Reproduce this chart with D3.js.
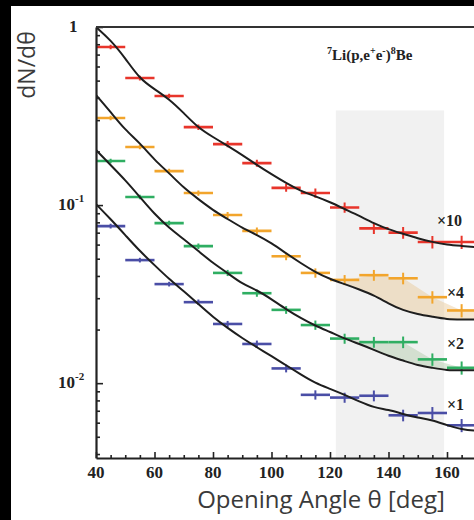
<!DOCTYPE html>
<html lang="en">
<head>
<meta charset="UTF-8">
<title>Opening angle distribution 7Li(p,e+e-)8Be</title>
<script src="https://d3js.org/d3.v7.min.js"></script>
<style>
  body { margin: 0; background: #fff; }
  svg { display: block; }
  .serif { font-family: 'Liberation Serif', 'Times New Roman', serif; font-weight: bold; fill: #222; }
  .sans { font-family: 'Open Sans', sans-serif; fill: #3a3a3a; }
  .axis path, .axis line { stroke: #222; }
</style>
</head>
<body>
<div id="chart"></div>
<script>
// histogram bins of the opening angle (deg)
var binCenters = [45, 55, 65, 75, 85, 95, 105, 115, 125, 135, 145, 155, 165];
var binWidth = 10;

// measured dN/dθ per series, before the display multipliers
var redData    = [0.0772, 0.0517, 0.0410, 0.0274, 0.0220, 0.0172, 0.0125, 0.0117, 0.0097, 0.0074, 0.0070, 0.0062, 0.0062];
var orangeData = [0.0771, 0.0530, 0.0388, 0.0292, 0.0220, 0.0179, 0.0129, 0.0104, 0.0095, 0.0101, 0.0097, 0.0076, 0.0064];
var greenData  = [0.0884, 0.0555, 0.0396, 0.0294, 0.0208, 0.0160, 0.0129, 0.0106, 0.0089, 0.0085, 0.0085, 0.0068, 0.0061];
var blueData   = [0.0762, 0.0491, 0.0360, 0.0285, 0.0215, 0.0166, 0.0121, 0.0086, 0.0083, 0.0085, 0.0066, 0.0068, 0.0058];
// relative error per bin
var relError   = [0.03, 0.03, 0.03, 0.035, 0.04, 0.045, 0.05, 0.06, 0.065, 0.07, 0.075, 0.08, 0.085];

// simulated curves (same units)
var curveAngles = [40, 45, 50, 55, 60, 65, 70, 75, 80, 85, 90, 95, 100, 105, 110, 115, 120, 125, 130, 135, 140, 145, 150, 155, 160, 165, 170, 175];
var redCurve    = [0.1000, 0.0845, 0.0669, 0.0510, 0.0448, 0.0394, 0.0329, 0.0271, 0.0241, 0.0215, 0.0191, 0.0168, 0.0149, 0.0133, 0.0120, 0.0112, 0.0104, 0.0095, 0.0087, 0.0079, 0.0073, 0.0069, 0.0065, 0.0062, 0.0060, 0.0059, 0.0058, 0.0057];
var orangeCurve = [0.1038, 0.0833, 0.0660, 0.0558, 0.0448, 0.0378, 0.0312, 0.0270, 0.0234, 0.0209, 0.0186, 0.0170, 0.0153, 0.0134, 0.0118, 0.0105, 0.0096, 0.0090, 0.0084, 0.0078, 0.0070, 0.0064, 0.0061, 0.0059, 0.0057, 0.0057, 0.0057, 0.0057];
var greenCurve  = [0.1019, 0.0839, 0.0691, 0.0555, 0.0445, 0.0372, 0.0322, 0.0276, 0.0236, 0.0208, 0.0180, 0.0167, 0.0148, 0.0130, 0.0116, 0.0105, 0.0097, 0.0089, 0.0083, 0.0077, 0.0071, 0.0067, 0.0063, 0.0061, 0.0059, 0.0059, 0.0059, 0.0059];
var blueCurve   = [0.1013, 0.0834, 0.0679, 0.0551, 0.0460, 0.0384, 0.0329, 0.0278, 0.0235, 0.0204, 0.0179, 0.0159, 0.0142, 0.0126, 0.0112, 0.0100, 0.0093, 0.0086, 0.0079, 0.0073, 0.0071, 0.0067, 0.0064, 0.0062, 0.0058, 0.0055, 0.0054, 0.0054];

var seriesNames   = ['\u00d710', '\u00d74', '\u00d72', '\u00d71'];
var seriesFactors = [10, 4, 2, 1];
var seriesData    = [redData, orangeData, greenData, blueData];
var seriesCurves  = [redCurve, orangeCurve, greenCurve, blueCurve];
var seriesColors  = ['#e8352b', '#f2a52c', '#2fae62', '#4a4ea6'];

// excess region (deg) and the bins where data sits above the curve
var bandRange = [122, 159];
var bandTop = 0.34;
var excessBins = [125, 135, 145, 155, 165];
var excessSeries = [1, 2];   // orange and green
var excessColors = ['#e6c48c', '#a9c6a2'];

var xMajorTicks = [40, 60, 80, 100, 120, 140, 160];
var yLabelTicks = [1, 0.1, 0.01];

// ---- layout (note: no global named "top", it clashes with window.top)
var width = 474, height = 520;
var plotLeft = 96, plotTop = 27, plotBottom = 458;

var svg = d3.select('#chart').append('svg')
    .attr('width', width)
    .attr('height', height);

svg.append('rect').attr('width', width).attr('height', height).attr('fill', '#fff');

var x = d3.scaleLinear().domain([40, 180]).range([plotLeft, plotLeft + 140 * 2.925]);
var y = d3.scaleLog().domain([0.0038, 1]).range([plotBottom, plotTop]);

svg.append('clipPath').attr('id', 'plotclip')
  .append('rect')
    .attr('x', plotLeft).attr('y', plotTop)
    .attr('width', x(180) - plotLeft).attr('height', plotBottom - plotTop);

var plot = svg.append('g').attr('clip-path', 'url(#plotclip)');

// grey band
plot.append('rect')
    .attr('x', x(bandRange[0]))
    .attr('y', y(bandTop))
    .attr('width', x(bandRange[1]) - x(bandRange[0]))
    .attr('height', plotBottom - y(bandTop))
    .attr('fill', '#f1f1f1');

// shaded excess between data and curve
excessSeries.forEach(function(si, k) {
    var f = seriesFactors[si];
    var topPts = excessBins.map(function(b) {
        var i = binCenters.indexOf(b);
        return [x(b), y(seriesData[si][i] * f)];
    });
    var last = seriesData[si][binCenters.indexOf(excessBins[excessBins.length - 1])];
    topPts.push([x(175), y(last * f)]);
    var botPts = [];
    curveAngles.forEach(function(a, i) {
        if (a >= excessBins[0] && a <= 175) botPts.push([x(a), y(seriesCurves[si][i] * f)]);
    });
    botPts.reverse();
    plot.append('path')
        .attr('d', d3.line()(topPts.concat(botPts)) + 'Z')
        .attr('fill', excessColors[k])
        .attr('fill-opacity', 0.42);
});

// data points with bin widths and errors
seriesData.forEach(function(vals, si) {
    var f = seriesFactors[si];
    var g = plot.append('g').attr('stroke', seriesColors[si]);
    g.selectAll('line.h')
        .data(vals)
        .enter().append('line')
        .attr('class', 'h')
        .attr('x1', function(d, i) { return x(binCenters[i] - binWidth / 2); })
        .attr('x2', function(d, i) { return x(binCenters[i] + binWidth / 2); })
        .attr('y1', function(d) { return y(d * f); })
        .attr('y2', function(d) { return y(d * f); })
        .attr('stroke-width', 2.6);
    g.selectAll('line.v')
        .data(vals)
        .enter().append('line')
        .attr('class', 'v')
        .attr('x1', function(d, i) { return x(binCenters[i]); })
        .attr('x2', function(d, i) { return x(binCenters[i]); })
        .attr('y1', function(d, i) { return y(d * f * (1 + relError[i])); })
        .attr('y2', function(d, i) { return y(d * f * (1 - relError[i])); })
        .attr('stroke-width', 2);
});

// simulation curves, smoothed
var line = d3.line()
    .x(function(d) { return x(d[0]); })
    .y(function(d) { return y(d[1]); })
    .curve(d3.curveBasis);

seriesCurves.forEach(function(c, si) {
    var pts = curveAngles.map(function(a, i) { return [a, c[i] * seriesFactors[si]]; });
    plot.append('path')
        .attr('d', line(pts))
        .attr('fill', 'none')
        .attr('stroke', '#1e1e1e')
        .attr('stroke-width', 2);
});

// ---- axes (ticks point inward)
var minorY = y.ticks().filter(function(v) { return yLabelTicks.indexOf(v) < 0; });
svg.append('g').attr('class', 'axis')
    .attr('transform', 'translate(' + plotLeft + ',0)')
    .call(d3.axisLeft(y).tickValues(minorY).tickSizeInner(-4).tickSizeOuter(0).tickFormat(''))
    .call(function(g) { g.select('.domain').attr('stroke-width', 2.2); g.selectAll('line').attr('stroke-width', 1.6); });
svg.append('g').attr('class', 'axis')
    .attr('transform', 'translate(' + plotLeft + ',0)')
    .call(d3.axisLeft(y).tickValues(yLabelTicks).tickSizeInner(-7).tickSizeOuter(0).tickFormat(''))
    .call(function(g) { g.select('.domain').remove(); g.selectAll('line').attr('stroke-width', 1.6); });

var minorX = d3.range(45, 180, 5).filter(function(v) { return xMajorTicks.indexOf(v) < 0; });
svg.append('g').attr('class', 'axis')
    .attr('transform', 'translate(0,' + plotBottom + ')')
    .call(d3.axisBottom(x).tickValues(minorX).tickSizeInner(-3).tickSizeOuter(0).tickFormat(''))
    .call(function(g) { g.select('.domain').attr('stroke-width', 2.2); g.selectAll('line').attr('stroke-width', 1.6); });
svg.append('g').attr('class', 'axis')
    .attr('transform', 'translate(0,' + plotBottom + ')')
    .call(d3.axisBottom(x).tickValues(xMajorTicks).tickSizeInner(-6).tickSizeOuter(0).tickFormat(''))
    .call(function(g) { g.select('.domain').remove(); g.selectAll('line').attr('stroke-width', 1.6); });

// top frame
svg.append('line')
    .attr('x1', plotLeft).attr('x2', width)
    .attr('y1', plotTop).attr('y2', plotTop)
    .attr('stroke', '#333').attr('stroke-width', 2.2);

// x tick labels
svg.selectAll('text.xlab')
    .data(xMajorTicks)
    .enter().append('text')
    .attr('class', 'serif xlab')
    .attr('x', function(d) { return x(d); })
    .attr('y', 478)
    .attr('text-anchor', 'middle')
    .style('font-size', '17px')
    .text(function(d) { return d; });

// y tick labels with exponents
yLabelTicks.forEach(function(v) {
    var e = Math.round(Math.log10(v));
    var t = svg.append('text').attr('class', 'serif')
        .attr('y', y(v) + 5)
        .style('font-size', '17px');
    if (e === 0) {
        t.attr('x', 69).text('1');
    } else {
        t.attr('x', 58).text('10');
        t.append('tspan').attr('dy', -8).style('font-size', '11px').text(e);
    }
});

// reaction label
var title = svg.append('text').attr('class', 'serif')
    .attr('x', 327).attr('y', 60)
    .style('font-size', '15px');
title.append('tspan').attr('dy', -6).style('font-size', '10px').text('7');
title.append('tspan').attr('dy', 6).text('Li(p,e');
title.append('tspan').attr('dy', -6).style('font-size', '10px').text('+');
title.append('tspan').attr('dy', 6).text('e');
title.append('tspan').attr('dy', -6).style('font-size', '10px').text('-');
title.append('tspan').attr('dy', 6).text(')');
title.append('tspan').attr('dy', -6).style('font-size', '10px').text('8');
title.append('tspan').attr('dy', 6).text('Be');

// multiplier labels above the curve ends
seriesNames.forEach(function(n, si) {
    var c = seriesCurves[si];
    svg.append('text').attr('class', 'serif')
        .attr('x', si === 0 ? 437 : 447)
        .attr('y', y(c[curveAngles.indexOf(170)] * seriesFactors[si]) - 21)
        .style('font-size', '16px')
        .text(n);
});

// axis titles
svg.append('text').attr('class', 'sans')
    .attr('transform', 'translate(35,65) rotate(-90)')
    .attr('text-anchor', 'middle')
    .style('font-size', '23px')
    .text('dN/d\u03b8');

svg.append('text').attr('class', 'sans')
    .attr('x', 321).attr('y', 508)
    .attr('text-anchor', 'middle')
    .style('font-size', '24px')
    .text('Opening Angle \u03b8 [deg]');

// dark photo border on the left and top
svg.append('rect').attr('x', 0).attr('y', 0).attr('width', 11).attr('height', height).attr('fill', '#000');
svg.append('rect').attr('x', 0).attr('y', 0).attr('width', width).attr('height', 6).attr('fill', '#000');
</script>
</body>
</html>
